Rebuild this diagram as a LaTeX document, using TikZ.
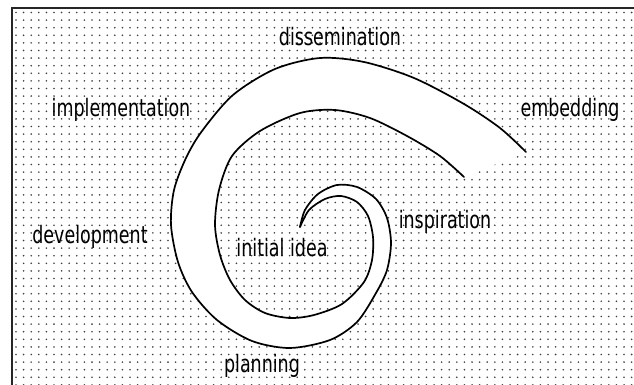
\documentclass[tikz,border=0pt]{standalone}
\usepackage{fontspec}
\newfontfamily\labfont{DejaVu Sans Condensed}[FakeStretch=0.81]
\begin{document}
\begin{tikzpicture}[x=1pt,y=-1pt,
  lab/.style={font=\labfont\fontsize{24}{26}\selectfont, inner sep=0pt, anchor=base, text=black},
  edge/.style={line width=1.7pt, line join=round, line cap=round},
  dotfill/.style={fill=black!75}]
\useasboundingbox (0,0) rectangle (634,385);
\fill[white] (0,0) rectangle (634,385);
% dotted background
\foreach \i in {0,...,81} {
  \foreach \j in {0,...,49} {
    \fill[dotfill] ({16+\i*7.6},{12.5+\j*7.6}) circle (0.9);
  }
}
% frame (left and top edges)
\draw[line width=1.8pt, black!85] (12,385) -- (12,8) -- (634,8);
% spiral band
\fill[white]
  plot[smooth] coordinates {(300,227) (305,210) (318,194) (337,185) (357,187) (376,199) (387,218) (391,243) (387,270) (376,293) (357,322) (330,340) (290,348) (252,341) (217,320) (192,292) (178,262) (171,225) (174,190) (186,158) (202,131) (233,95) (275,69) (320,58) (364,62) (414,78) (464,104) (500,128) (526,152)}
  -- plot[smooth] coordinates {(464,177) (440,156) (407,136) (370,118) (335,110) (300,113) (260,131) (232,156) (219,190) (215,225) (220,255) (230,280) (245,300) (265,313) (290,318) (314,315) (342,304) (364,282) (372,260) (373,237) (368,216) (357,202) (341,196) (325,199) (309,210) (300,227)}
  -- cycle;
\draw[edge] plot[smooth] coordinates {(300,227) (305,210) (318,194) (337,185) (357,187) (376,199) (387,218) (391,243) (387,270) (376,293) (357,322) (330,340) (290,348) (252,341) (217,320) (192,292) (178,262) (171,225) (174,190) (186,158) (202,131) (233,95) (275,69) (320,58) (364,62) (414,78) (464,104) (500,128) (526,152)};
\draw[edge] plot[smooth] coordinates {(464,177) (440,156) (407,136) (370,118) (335,110) (300,113) (260,131) (232,156) (219,190) (215,225) (220,255) (230,280) (245,300) (265,313) (290,318) (314,315) (342,304) (364,282) (372,260) (373,237) (368,216) (357,202) (341,196) (325,199) (309,210) (300,227)};
% labels
\node[lab] (diss) at (340,46) {dissemination};
\node[lab] (impl) at (121,117) {implementation};
\node[lab] (emb) at (570,117) {embedding};
\node[lab] (dev) at (90,243) {development};
\node[lab] (idea) at (282,256) {initial idea};
\node[lab] (insp) at (445,228) {inspiration};
\node[lab] (plan) at (262,372) {planning};
\end{tikzpicture}
\end{document}
